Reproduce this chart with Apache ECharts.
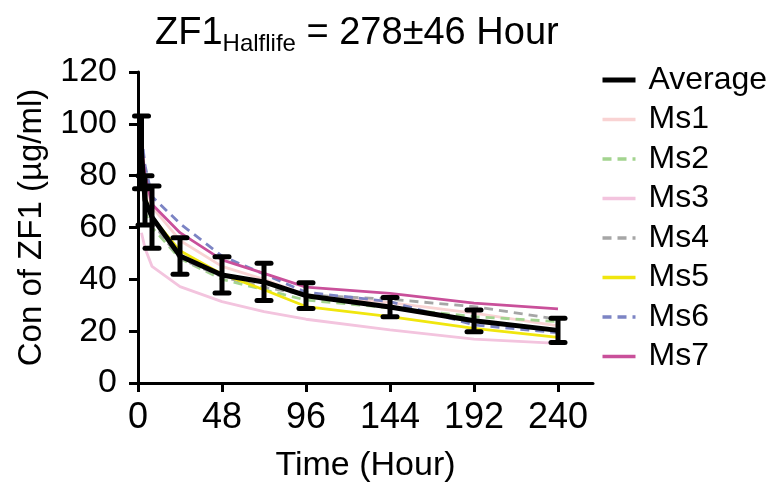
<!DOCTYPE html>
<html>
<head>
<meta charset="utf-8">
<title>ZF1 Halflife</title>
<script src="https://cdn.jsdelivr.net/npm/echarts@6/dist/echarts.min.js"></script>
<style>
	html, body { margin: 0; padding: 0; background: #fff; }
	#chart { width: 776px; height: 491px; }
</style>
</head>
<body>
<div id="chart"></div>
<script>
	// 采样时间 (Hour)
	var times = [2, 4, 8, 24, 48, 72, 96, 144, 192, 240];
	var xTicks = [0, 48, 96, 144, 192, 240];

	// 各只小鼠浓度 (µg/ml)
	var ms1 = [98, 78, 68, 55, 45, 40, 34, 31, 27, 22];
	var ms2 = [90, 66, 60, 48, 40, 36, 32, 29, 25.6, 23.7];
	var ms3 = [58, 52, 45, 37.2, 31.4, 27.5, 24.6, 20.5, 16.9, 15.3];
	var ms4 = [92, 72, 62, 48, 41, 37, 34, 32.3, 29.5, 24.6];
	var ms5 = [86, 72, 64, 51, 42, 36, 29.5, 25.6, 21.1, 17.6];
	var ms6 = [96, 84, 72, 61.5, 49, 42, 35, 31.4, 22.4, 19.4];
	var ms7 = [92, 80, 69, 58, 47.5, 42.3, 37, 34.6, 30.8, 28.6];

	// 平均值 和 SD
	var average = [89, 70.5, 64, 49, 41.7, 39, 33.7, 29.3, 24, 20.3];
	var sd = [14, 9.5, 12, 7, 7, 7.2, 5, 3.7, 4.2, 4.7];

	var legendNames = ['Average', 'Ms1', 'Ms2', 'Ms3', 'Ms4', 'Ms5', 'Ms6', 'Ms7'];

	var font = 'Liberation Sans';

	function pairs(values) {
		return times.map(function(t, i) {
			return [t, values[i]];
		});
	}

	function msLine(name, values, color, dashed) {
		return {
			name: name,
			type: 'line',
			data: pairs(values),
			symbol: 'none',
			lineStyle: {
				color: color,
				width: 2.8,
				type: dashed ? [9, 6] : 'solid'
			},
			itemStyle: { color: color },
			z: 2
		};
	}

	var option = {
		animation: false,
		textStyle: { fontFamily: font, color: '#000' },
		title: {
			text: '{a|ZF1}{b|Halflife}{a| = 278±46 Hour}',
			left: 150,
			top: 10,
			textStyle: {
				rich: {
					a: { fontSize: 38, fontWeight: 'normal', fontFamily: font, color: '#000', verticalAlign: 'bottom' },
					b: { fontSize: 24, fontWeight: 'normal', fontFamily: font, color: '#000', verticalAlign: 'bottom', padding: [0, 0, -3, 0] }
				}
			}
		},
		legend: {
			orient: 'vertical',
			left: 595,
			top: 59,
			itemWidth: 33,
			itemHeight: 14,
			itemGap: 7.5,
			itemStyle: { opacity: 0 },
			data: legendNames.map(function(n) {
				return { name: n, lineStyle: { width: n == 'Average' ? 5 : 3.5 } };
			}),
			textStyle: { fontSize: 32, lineHeight: 30, fontFamily: font, color: '#000', padding: [0, 0, 0, 8] }
		},
		grid: {
			left: 138,
			right: 183,
			top: 72,
			bottom: 108,
			containLabel: false
		},
		xAxis: {
			type: 'value',
			min: 0,
			max: 260,
			name: 'Time (Hour)',
			nameLocation: 'middle',
			nameGap: 66,
			nameTextStyle: { fontSize: 34, fontFamily: font, color: '#000' },
			axisLine: { lineStyle: { color: '#000', width: 3 } },
			axisTick: { length: 9, lineStyle: { color: '#000', width: 3 }, customValues: xTicks },
			axisLabel: { fontSize: 36, color: '#000', margin: 17, customValues: xTicks },
			splitLine: { show: false }
		},
		yAxis: {
			type: 'value',
			min: 0,
			max: 120,
			interval: 20,
			name: 'Con of ZF1 (µg/ml)',
			nameLocation: 'middle',
			nameGap: 90,
			nameTextStyle: { fontSize: 33, fontFamily: font, color: '#000' },
			axisLine: { show: true, lineStyle: { color: '#000', width: 3 } },
			axisTick: { show: true, length: 9, lineStyle: { color: '#000', width: 3 } },
			axisLabel: { fontSize: 34, color: '#000', margin: 21 },
			splitLine: { show: false }
		},
		series: [
			msLine('Ms1', ms1, '#F9D3D3', false),
			msLine('Ms2', ms2, '#A3D48F', true),
			msLine('Ms3', ms3, '#F3C4DE', false),
			msLine('Ms4', ms4, '#A6A6A6', true),
			msLine('Ms5', ms5, '#F0E60E', false),
			msLine('Ms6', ms6, '#7C84C4', true),
			msLine('Ms7', ms7, '#C9509A', false),
			{
				name: 'Average',
				type: 'line',
				data: pairs(average),
				symbol: 'none',
				lineStyle: { color: '#000', width: 5 },
				itemStyle: { color: '#000' },
				z: 5
			},
			{
				// 误差线
				name: 'SD',
				type: 'custom',
				data: times.map(function(t, i) {
					return [t, average[i], sd[i]];
				}),
				renderItem: function(params, api) {
					var x = api.value(0);
					var m = api.value(1);
					var e = api.value(2);
					var top = api.coord([x, m + e]);
					var bot = api.coord([x, m - e]);
					var w = 7;
					var style = { stroke: '#000', lineWidth: 5, lineCap: 'round' };
					return {
						type: 'group',
						children: [
							{ type: 'line', shape: { x1: top[0], y1: top[1], x2: bot[0], y2: bot[1] }, style: { stroke: '#000', lineWidth: 5 } },
							{ type: 'line', shape: { x1: top[0] - w, y1: top[1], x2: top[0] + w, y2: top[1] }, style: style },
							{ type: 'line', shape: { x1: bot[0] - w, y1: bot[1], x2: bot[0] + w, y2: bot[1] }, style: style }
						]
					};
				},
				z: 6
			}
		]
	};

	var myChart = echarts.init(document.getElementById('chart'));
	myChart.setOption(option);
</script>
</body>
</html>
